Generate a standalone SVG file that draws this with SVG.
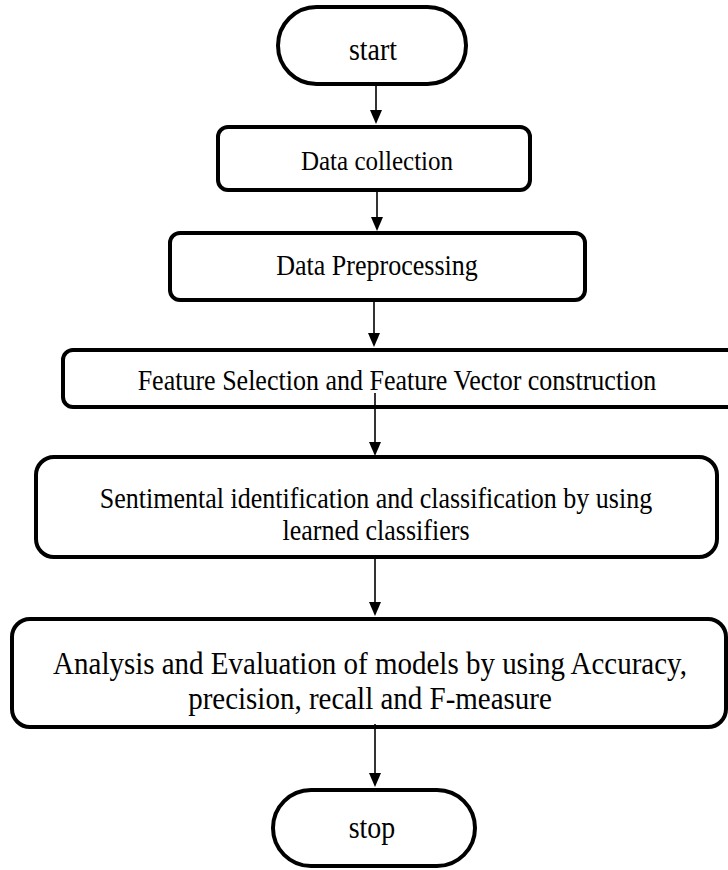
<svg xmlns="http://www.w3.org/2000/svg" width="728" height="870" viewBox="0 0 728 870">
<style>
.box{fill:#fff;stroke:#000;stroke-width:4}
.t{font-family:"Liberation Serif","Times New Roman",serif;fill:#000;text-anchor:middle}
.c{stroke:#000;stroke-width:1.6;fill:none}
.h{fill:#000}
</style>
<rect width="728" height="870" fill="#fff"/>
<g id="start">
<rect class="box" x="278" y="7" width="188" height="77" rx="38.5"/>
<text class="t" transform="translate(373,60) scale(0.9,1)" font-size="31">start</text>
</g>
<g id="data-collection">
<rect class="box" x="218" y="127" width="312" height="63" rx="10"/>
<text class="t" transform="translate(377,170) scale(0.9,1)" font-size="27.8">Data collection</text>
</g>
<g id="data-preprocessing">
<rect class="box" x="170" y="233" width="415" height="67" rx="10"/>
<text class="t" transform="translate(377,275) scale(0.9,1)" font-size="28.9">Data Preprocessing</text>
</g>
<g id="feature-selection">
<rect class="box" x="63" y="350" width="690" height="57" rx="10"/>
<text class="t" transform="translate(397,390) scale(0.9,1)" font-size="28.9">Feature Selection and Feature Vector construction</text>
</g>
<g id="sentimental">
<rect class="box" x="36" y="457" width="681" height="100" rx="18"/>
<text class="t" transform="translate(376,508) scale(0.9,1)" font-size="28.9">Sentimental identification and classification by using</text>
<text class="t" transform="translate(376,540) scale(0.9,1)" font-size="28.9">learned classifiers</text>
</g>
<g id="analysis">
<rect class="box" x="12" y="619" width="714" height="108" rx="18"/>
<text class="t" transform="translate(370,674) scale(0.9,1)" font-size="32.2">Analysis and Evaluation of models by using Accuracy,</text>
<text class="t" transform="translate(370,709) scale(0.9,1)" font-size="32.2">precision, recall and F-measure</text>
</g>
<g id="stop">
<rect class="box" x="273" y="790" width="202" height="76" rx="38"/>
<text class="t" transform="translate(372,838) scale(0.9,1)" font-size="31">stop</text>
</g>
<g id="connectors">
<path class="c" d="M376,86 V110"/>
<path class="h" d="M370,110 L382,110 L376,124 Z"/>
<path class="c" d="M377,192 V217"/>
<path class="h" d="M371,217 L383,217 L377,231 Z"/>
<path class="c" d="M374,302 V333"/>
<path class="h" d="M368,333 L380,333 L374,347 Z"/>
<path class="c" d="M375,393 V442"/>
<path class="h" d="M369,442 L381,442 L375,456 Z"/>
<path class="c" d="M375,559 V602"/>
<path class="h" d="M369,602 L381,602 L375,616 Z"/>
<path class="c" d="M375,724 V773"/>
<path class="h" d="M369,773 L381,773 L375,787 Z"/>
</g>
</svg>
